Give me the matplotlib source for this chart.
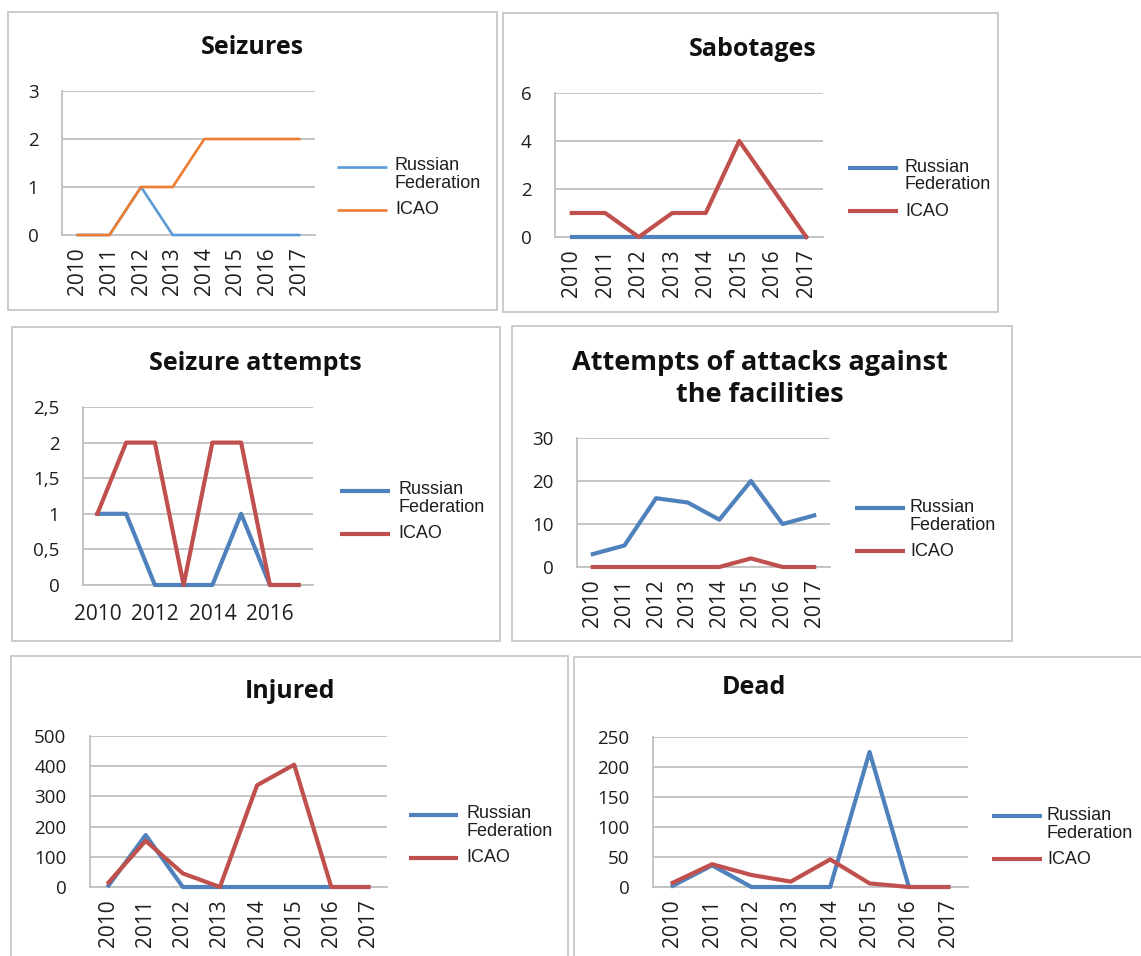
import numpy as np
import matplotlib.pyplot as plt
from matplotlib.patches import Rectangle
from matplotlib.lines import Line2D

years = ['2010', '2011', '2012', '2013', '2014', '2015', '2016', '2017']

seizures_rf = [0, 0, 1, 0, 0, 0, 0, 0]
seizures_icao = [0, 0, 1, 1, 2, 2, 2, 2]

sabotages_rf = [0, 0, 0, 0, 0, 0, 0, 0]
sabotages_icao = [1, 1, 0, 1, 1, 4, 2, 0]

attempts_rf = [1, 1, 0, 0, 0, 1, 0, 0]
attempts_icao = [1, 2, 2, 0, 2, 2, 0, 0]

attacks_rf = [3, 5, 16, 15, 11, 20, 10, 12]
attacks_icao = [0, 0, 0, 0, 0, 2, 0, 0]

injured_rf = [5, 172, 0, 0, 0, 0, 0, 0]
injured_icao = [15, 153, 45, 0, 337, 405, 0, 0]

dead_rf = [2, 36, 0, 0, 0, 225, 0, 0]
dead_icao = [7, 38, 20, 9, 46, 6, 0, 0]

series_names = ['Russian Federation', 'ICAO']

W, H = 1141, 956
fig = plt.figure(figsize=(W / 100, H / 100), dpi=100)

NEW_COLORS = ('#5B9BD5', '#ED7D31')
OLD_COLORS = ('#4F81BD', '#C0504D')
GRID = '#C0C0C0'
TXT = '#1E1E1E'


def fx(px):
    return px / W


def fy(py):
    return 1 - py / H


def frame(x0, y0, x1, y1):
    # chart border, pixel coords from top-left
    fig.patches.append(Rectangle((fx(x0), fy(y1)), (x1 - x0) / W, (y1 - y0) / H,
                                 transform=fig.transFigure, fill=False,
                                 edgecolor='#C8C8C8', lw=1.3))


def legend_block(x, y, colors, lw, handle_px=50, gap=8):
    # Excel-style legend: swatch lines level with the first text row
    rows = [(y, colors[0]), (y + 43, colors[1])]
    for yy, c in rows:
        fig.add_artist(Line2D([fx(x), fx(x + handle_px)], [fy(yy), fy(yy)],
                              color=c, lw=lw, solid_capstyle='butt'))
    tx = fx(x + handle_px + gap)
    first, second = series_names[0].split(' ')
    for yy, s in ((y - 1, first), (y + 17, second), (y + 43, series_names[1])):
        fig.text(tx, fy(yy), s, va='center', ha='left', fontsize=13,
                 family='Liberation Sans', color=TXT)


def panel(box, rf, icao, yticks, ylabels, title, title_xy, legend_xy,
          colors=OLD_COLORS, lw=3.0, rotate=True, step=1, title_size=18,
          handle_px=50, gap=8):
    x0, y0, x1, y1 = box
    ax = fig.add_axes([fx(x0), fy(y1), (x1 - x0) / W, (y1 - y0) / H])
    x = np.arange(len(years))
    ax.plot(x, rf, color=colors[0], lw=lw, solid_joinstyle='round', clip_on=False)
    ax.plot(x, icao, color=colors[1], lw=lw, solid_joinstyle='round', clip_on=False)
    ax.set_xlim(-0.5, len(years) - 0.5)
    ax.set_ylim(yticks[0], yticks[-1])
    ax.set_yticks(yticks, ylabels)
    ax.set_xticks(x[::step], years[::step], rotation=90 if rotate else 0)
    ax.grid(axis='y', color=GRID, lw=1.3)
    ax.set_axisbelow(True)
    for s in ('top', 'right'):
        ax.spines[s].set_visible(False)
    for s in ('left', 'bottom'):
        ax.spines[s].set_color(GRID)
        ax.spines[s].set_linewidth(1.3)
        ax.spines[s].set_zorder(0)
    ax.tick_params(axis='y', length=0, pad=17, labelsize=13.5, labelcolor=TXT)
    ax.tick_params(axis='x', length=0, pad=9 if rotate else 14, labelsize=15,
                   labelcolor=TXT)
    for t in ax.get_xticklabels() + ax.get_yticklabels():
        t.set_family('Open Sans')

    fig.text(fx(title_xy[0]), fy(title_xy[1]), title, ha='center', va='center',
             fontsize=title_size, fontweight='bold', family='Open Sans', color='#111111',
             linespacing=1.25)

    legend_block(legend_xy[0], legend_xy[1], colors, lw, handle_px, gap)
    return ax


frame(8, 12, 497, 310)
frame(503, 13, 998, 312)
frame(12, 327, 500, 641)
frame(512, 326, 1012, 641)
frame(11, 656, 568, 975)
frame(574, 657, 1160, 975)

panel((62, 91, 315, 235), seizures_rf, seizures_icao, [0, 1, 2, 3], ['0', '1', '2', '3'],
      'Seizures', (252, 47), (337, 167), colors=NEW_COLORS, lw=1.9)

panel((555, 93, 823, 237), sabotages_rf, sabotages_icao, [0, 2, 4, 6], ['0', '2', '4', '6'],
      'Sabotages', (753, 50), (848, 168), gap=7)

panel((83, 407, 313, 585), attempts_rf, attempts_icao,
      [0, 0.5, 1, 1.5, 2, 2.5], ['0', '0,5', '1', '1,5', '2', '2,5'],
      'Seizure attempts', (255, 363), (340, 491), rotate=False, step=2)

panel((577, 438, 830, 567), attacks_rf, attacks_icao, [0, 10, 20, 30], ['0', '10', '20', '30'],
      'Attempts of attacks against\nthe facilities', (760, 379), (855, 508),
      title_size=19.5, gap=5)

panel((90, 736, 387, 887), injured_rf, injured_icao, [0, 100, 200, 300, 400, 500],
      ['0', '100', '200', '300', '400', '500'],
      'Injured', (290, 692), (409, 815), handle_px=49)

panel((653, 737, 968, 887), dead_rf, dead_icao, [0, 50, 100, 150, 200, 250],
      ['0', '50', '100', '150', '200', '250'],
      'Dead', (754, 688), (992, 816), gap=5)

fig.savefig('out.png', dpi=100, facecolor='white')
